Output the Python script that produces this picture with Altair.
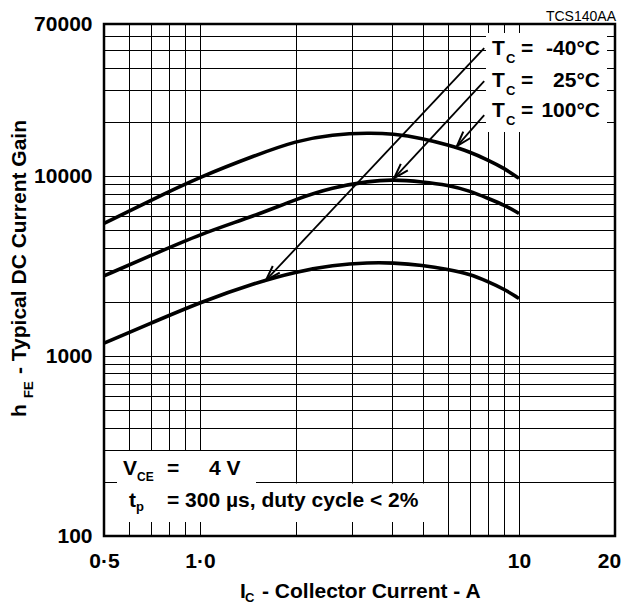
import math
import altair as alt
import pandas as pd

# ---------------- data ----------------
ic = [0.5, 0.7, 1.0, 1.5, 2.0, 2.6, 3.4, 4.0, 5.0, 6.0, 7.0, 8.0, 9.0, 10.0]
hfe_100 = [5460, 7330, 9900, 13100, 15700, 17050, 17400, 17200, 16200, 14870, 13650, 12270, 11040, 9710]
hfe_25 = [2790, 3610, 4760, 6050, 7450, 8650, 9380, 9580, 9300, 8910, 8280, 7520, 6900, 6200]
hfe_m40 = [1180, 1520, 1990, 2560, 2940, 3200, 3310, 3300, 3200, 3030, 2855, 2590, 2350, 2090]

x_grid = [0.5, 0.6, 0.7, 0.8, 0.9, 1, 2, 3, 4, 5, 6, 7, 8, 9, 10, 20]
x_label_vals = [0.5, 1, 10, 20]
x_label_txt = ["0·5", "1·0", "10", "20"]
y_grid = [100, 200, 300, 400, 500, 600, 700, 800, 900,
          1000, 2000, 3000, 4000, 5000, 6000, 7000, 8000, 9000,
          10000, 20000, 30000, 40000, 50000, 60000, 70000]
y_label_vals = [100, 1000, 10000, 70000]

# arrows from the legend text to the curves (data coordinates)
arrow_series = ["-40°C", "25°C", "100°C"]
arrow_x_start = [7.78, 7.78, 7.78]
arrow_y_start = [51400, 33700, 21800]
arrow_x_end = [1.61, 4.06, 6.39]
arrow_y_end = [2640, 9740, 14680]

# ---------------- layout ----------------
W, H = 511, 512
X_DOM = [0.5, 20]
Y_DOM = [100, 70000]
FONT = "Liberation Sans"

curves = pd.DataFrame({
    "ic": ic * 3,
    "hfe": hfe_100 + hfe_25 + hfe_m40,
    "series": ["100°C"] * len(ic) + ["25°C"] * len(ic) + ["-40°C"] * len(ic),
})


def px(x):
    return W * math.log(x / X_DOM[0]) / math.log(X_DOM[1] / X_DOM[0])


def py(y):
    return H * (1 - math.log(y / Y_DOM[0]) / math.log(Y_DOM[1] / Y_DOM[0]))


angles = []
for xs, ys, xe, ye in zip(arrow_x_start, arrow_y_start, arrow_x_end, arrow_y_end):
    dx = px(xe) - px(xs)
    dy = py(ye) - py(ys)
    angles.append(math.degrees(math.atan2(-dx, dy)) % 360)

arrows = pd.DataFrame({
    "series": arrow_series,
    "xs": arrow_x_start, "ys": arrow_y_start,
    "xe": arrow_x_end, "ye": arrow_y_end,
    "ang": angles,
})

x_expr = " : ".join(
    f"datum.value == {v} ? '{t}'" for v, t in zip(x_label_vals, x_label_txt)
) + " : ''"
y_expr = " : ".join(
    f"datum.value == {v} ? '{v}'" for v in y_label_vals
) + " : ''"

common_axis = dict(grid=True, ticks=False, domain=False, title=None,
                   labelFontSize=21, labelFontWeight="bold", labelFont=FONT,
                   labelColor="black", gridColor="black", gridWidth=1,
                   gridOpacity=1, labelOverlap=False, labelFlush=False)

x_enc = alt.X(
    "ic:Q",
    scale=alt.Scale(type="log", domain=X_DOM, nice=False),
    axis=alt.Axis(values=x_grid, labelExpr=x_expr, labelPadding=14,
                  labelOffset={"condition": {"test": f"datum.value == {X_DOM[1]}", "value": -6},
                               "value": 0},
                  **common_axis),
)
y_enc = alt.Y(
    "hfe:Q",
    scale=alt.Scale(type="log", domain=Y_DOM, nice=False),
    axis=alt.Axis(values=y_grid, labelExpr=y_expr, labelPadding=12, **common_axis),
)

lines = alt.Chart(curves).mark_line(
    color="black", strokeWidth=3.6, interpolate="basis"
).encode(x=x_enc, y=y_enc, detail="series:N")

dummy = pd.DataFrame({"a": [0]})


def box(x1, x2, y1, y2):
    return alt.Chart(dummy).mark_rect(color="white", opacity=1).encode(
        x=alt.value(x1), x2=alt.value(x2), y=alt.value(y1), y2=alt.value(y2))


def label(txt, x, y, size=21, align="left", weight="bold", angle=0):
    kw = dict(text=txt, align=align, baseline="alphabetic", fontSize=size,
              fontWeight=weight, font=FONT, color="black")
    if angle:
        kw["angle"] = angle
    return alt.Chart(dummy).mark_text(**kw).encode(x=alt.value(x), y=alt.value(y))


boxes = [
    box(382, 503, 9, 108),
    box(13, 152, 427, 460),
    box(13, 344, 459.5, 498),
]

arrow_lines = alt.Chart(arrows).mark_rule(color="black", strokeWidth=1.8).encode(
    x=alt.X("xs:Q", title=None), y=alt.Y("ys:Q", title=None),
    x2="xe:Q", y2="ye:Q")

arrow_heads = alt.Chart(arrows).mark_point(
    shape="M-0.32,-1L0,0L0.32,-1", size=900, filled=False, stroke="black",
    strokeWidth=2, opacity=1
).encode(x=alt.X("xe:Q", title=None), y=alt.Y("ye:Q", title=None),
         angle=alt.Angle("ang:Q", scale=None))

texts = []
# legend
legend_vals = ["-40°C", "25°C", "100°C"]
for base, val in zip([31, 63, 93], legend_vals):
    texts += [
        label("T", 388, base),
        label("C", 402, base + 8, size=13),
        label("=", 417, base),
        label(val, 496, base, align="right"),
    ]
# test conditions
texts += [
    label("V", 19, 451),
    label("CE", 33, 457, size=12),
    label("=", 63, 451),
    label("4 V", 105, 451),
    label("t", 25, 483),
    label("p", 32, 487, size=13),
    label("= 300 µs, duty cycle < 2%", 63, 483),
]
# axis titles
texts += [
    label("I", 136, 574),
    label("C", 141, 578, size=13),
    label("- Collector Current - A", 158, 574),
    label("h", -78, 393, angle=270),
    label("FE", -71, 374, size=13, angle=270),
    label("- Typical DC Current Gain", -78, 350, angle=270),
    label("TCS140AA", 512, -3, size=14, align="right", weight="normal"),
]

chart = alt.layer(lines, *boxes, arrow_lines, arrow_heads, *texts).properties(
    width=W, height=H,
    autosize=alt.AutoSizeParams(type="none"),
    padding={"left": 96, "top": 16, "right": 6, "bottom": 69},
    background="white",
).configure_view(stroke="black", strokeWidth=2.5)

chart.save("out.html", embed_options={"renderer": "svg", "actions": False})
